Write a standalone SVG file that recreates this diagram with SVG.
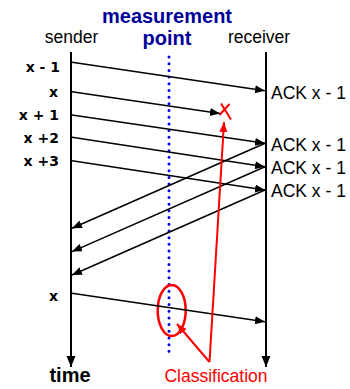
<svg xmlns="http://www.w3.org/2000/svg" width="350" height="389" viewBox="0 0 350 389">
<style>
.reg{font-family:"Liberation Sans",Arial,sans-serif;font-size:17.5px;fill:#000}
.lbl{font-family:"DejaVu Sans",Verdana,sans-serif;font-size:14px;font-weight:bold;fill:#000;text-anchor:end}
.mp{font-family:"Liberation Sans",Arial,sans-serif;font-size:20px;font-weight:bold;fill:#000099;text-anchor:middle}
.msg{stroke:#000;stroke-width:1.5;fill:none;marker-end:url(#ah)}
.red{stroke:#ff0000;stroke-width:2;fill:none}
</style>
<defs>
<marker id="ah" markerUnits="userSpaceOnUse" markerWidth="12" markerHeight="10" refX="10" refY="4" orient="auto">
<path d="M0,0 L10,4 L0,8 Z" fill="#000"/>
</marker>
<marker id="ahv" markerUnits="userSpaceOnUse" markerWidth="12" markerHeight="10" refX="11" refY="4.5" orient="auto">
<path d="M0,0 L11,4.5 L0,9 Z" fill="#000"/>
</marker>
<marker id="ahr" markerUnits="userSpaceOnUse" markerWidth="12" markerHeight="10" refX="10" refY="4" orient="auto">
<path d="M0,0 L10,4 L0,8 Z" fill="#ff0000"/>
</marker>
</defs>
<g id="measurement-point">
<text class="mp" x="167" y="23">measurement</text>
<text class="mp" x="167" y="45">point</text>
<line x1="169" y1="57" x2="169" y2="358" stroke="#0000e6" stroke-width="3" stroke-linecap="round" stroke-dasharray="0 6.69"/>
</g>
<g id="sender">
<text class="reg" x="71.5" y="43" text-anchor="middle">sender</text>
<line x1="71" y1="52" x2="71" y2="367" stroke="#000" stroke-width="2" marker-end="url(#ahv)"/>
<text x="70" y="382" font-family="Liberation Sans,Arial,sans-serif" font-size="20" font-weight="bold" text-anchor="middle">time</text>
</g>
<g id="receiver">
<text class="reg" x="259" y="43" text-anchor="middle">receiver</text>
<line x1="266" y1="52" x2="266" y2="367" stroke="#000" stroke-width="2" marker-end="url(#ahv)"/>
</g>
<g id="labels">
<text class="lbl" x="60" y="71.7">x - 1</text>
<text class="lbl" x="58" y="96.7">x</text>
<text class="lbl" x="59" y="120">x + 1</text>
<text class="lbl" x="59" y="143.3">x +2</text>
<text class="lbl" x="59" y="166">x +3</text>
<text class="lbl" x="58" y="300.7">x</text>
</g>
<g id="acks">
<text class="reg" x="271" y="99.3">ACK x - 1</text>
<text class="reg" x="271" y="150.7">ACK x - 1</text>
<text class="reg" x="271" y="173.5">ACK x - 1</text>
<text class="reg" x="271" y="196.7">ACK x - 1</text>
</g>
<g id="loss">
<path class="red" d="M221,103.5 L231,119.5 M229.5,104 L219.5,115"/>
</g>
<g id="classification">
<ellipse cx="171.7" cy="310.5" rx="14" ry="25.5" fill="none" stroke="#ff0000" stroke-width="2.5"/>
<text x="216" y="381.7" font-family="Liberation Sans,Arial,sans-serif" font-size="17.5" fill="#ff0000" text-anchor="middle">Classification</text>
</g>
<g id="connectors">
<line class="msg" x1="72" y1="62.3" x2="265" y2="90.7"/>
<line class="msg" x1="72" y1="91.7" x2="220" y2="113.5"/>
<line class="msg" x1="72" y1="115" x2="265" y2="143.3"/>
<line class="msg" x1="72" y1="137.3" x2="265" y2="166.7"/>
<line class="msg" x1="72" y1="160.7" x2="265" y2="190"/>
<line class="msg" x1="265" y1="143.3" x2="72" y2="228.3"/>
<line class="msg" x1="265" y1="166.7" x2="72" y2="251.6"/>
<line class="msg" x1="265" y1="190" x2="72" y2="275"/>
<line class="msg" x1="72" y1="293.3" x2="265" y2="321.7"/>
<line class="red" x1="209.5" y1="362" x2="224" y2="122" marker-end="url(#ahr)"/>
<line class="red" x1="209.5" y1="362" x2="177" y2="324" marker-end="url(#ahr)"/>
</g>
</svg>
